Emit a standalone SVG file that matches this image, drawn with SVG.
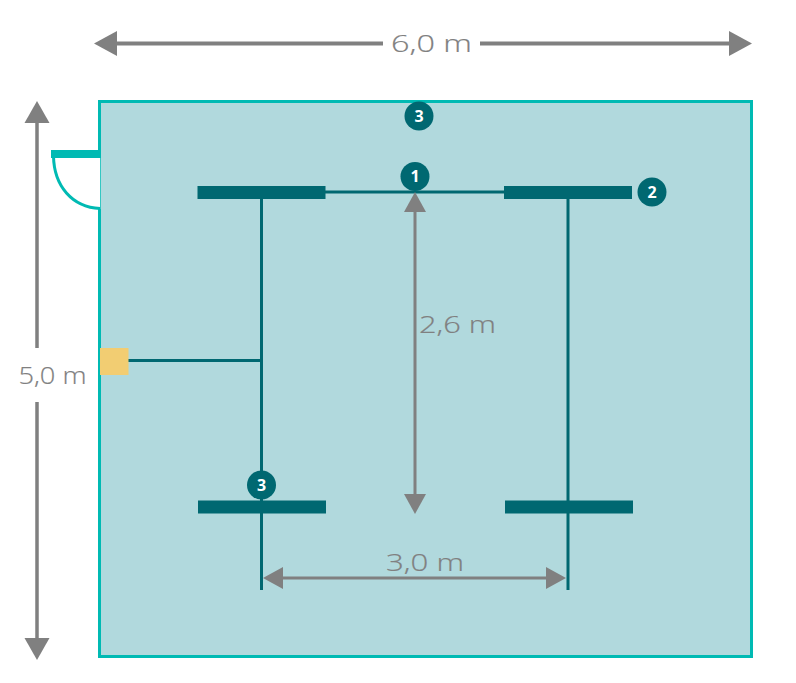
<svg xmlns="http://www.w3.org/2000/svg" width="796" height="683" viewBox="0 0 796 683">
<style>
.dim{stroke:#808080;stroke-width:4;fill:none}
.head{fill:#808080}
.lbl{font-family:"Open Sans","Liberation Sans",sans-serif;font-size:24px;font-weight:300;fill:#808080;stroke:#808080;stroke-width:.2}
.bar{fill:#006871}
.wire{stroke:#006871;stroke-width:3;fill:none}
.c{fill:#006871}
.n{font-family:"Open Sans","Liberation Sans",sans-serif;font-size:16px;font-weight:700;fill:#fff;text-anchor:middle}
</style>
<rect width="796" height="683" fill="#fff"/>
<g id="room">
<rect x="99.500" y="101.500" width="652" height="555" fill="#b1d9dd" stroke="#00bab3" stroke-width="3"/>
</g>
<g id="door">
<rect x="98" y="152" width="2.200" height="57" fill="#fff"/>
<path d="M53.500 156C54 186 72 207 100 208.500" fill="#fff" stroke="#00bab3" stroke-width="3"/>
<rect x="51" y="150" width="50" height="8" fill="#00bab3"/>
</g>
<g id="connectors">
<path class="wire" d="M325 192H505"/>
<path class="wire" d="M261.500 198V590"/>
<path class="wire" d="M568 198V590"/>
<path class="wire" d="M128 360.500H261"/>
</g>
<g id="dimensions">
<path class="dim" d="M112 43.500H383M480 43.500H735"/>
<polygon class="head" points="94,43.500 117,31 117,56"/>
<polygon class="head" points="752,43.500 729,31 729,56"/>
<path class="dim" style="stroke-width:3.500" d="M37 118V348M37 402V643"/>
<polygon class="head" points="37,101 24.500,123 49.500,123"/>
<polygon class="head" points="37,660 24.500,638 49.500,638"/>
<path class="dim" d="M415 205V500" style="stroke-width:3"/>
<polygon class="head" points="415,192 404,212 426,212"/>
<polygon class="head" points="415,514 404,494 426,494"/>
<path class="dim" d="M278 578H550" style="stroke-width:3"/>
<polygon class="head" points="263,578 283,567 283,589"/>
<polygon class="head" points="566,578 546,567 546,589"/>
</g>
<g id="labels">
<text class="lbl" x="391" y="52" textLength="81" lengthAdjust="spacingAndGlyphs">6,0 m</text>
<text class="lbl" x="18.500" y="384" textLength="68" lengthAdjust="spacingAndGlyphs">5,0 m</text>
<text class="lbl" x="419" y="333" textLength="77" lengthAdjust="spacingAndGlyphs">2,6 m</text>
<text class="lbl" x="386" y="570.500" textLength="78" lengthAdjust="spacingAndGlyphs">3,0 m</text>
</g>
<g id="socket"><rect x="100" y="348" width="28.500" height="27" fill="#f2cd72"/></g>
<g id="lamp-top-left"><rect class="bar" x="197.500" y="186" width="128" height="13"/></g>
<g id="lamp-top-right"><rect class="bar" x="504" y="186" width="128" height="13"/></g>
<g id="lamp-bottom-left"><rect class="bar" x="198" y="500.500" width="128" height="13"/></g>
<g id="lamp-bottom-right"><rect class="bar" x="505" y="500.500" width="128" height="13"/></g>
<g id="badge-1"><circle class="c" cx="415" cy="176.500" r="14.500"/><text class="n" x="415" y="182">1</text></g>
<g id="badge-2"><circle class="c" cx="652" cy="192" r="14.500"/><text class="n" x="652" y="197.500">2</text></g>
<g id="badge-3-top"><circle class="c" cx="419" cy="116" r="14.500"/><text class="n" x="419" y="121.500">3</text></g>
<g id="badge-3-bottom"><circle class="c" cx="261.500" cy="485" r="14.500"/><text class="n" x="261.500" y="490.500">3</text></g>
</svg>
